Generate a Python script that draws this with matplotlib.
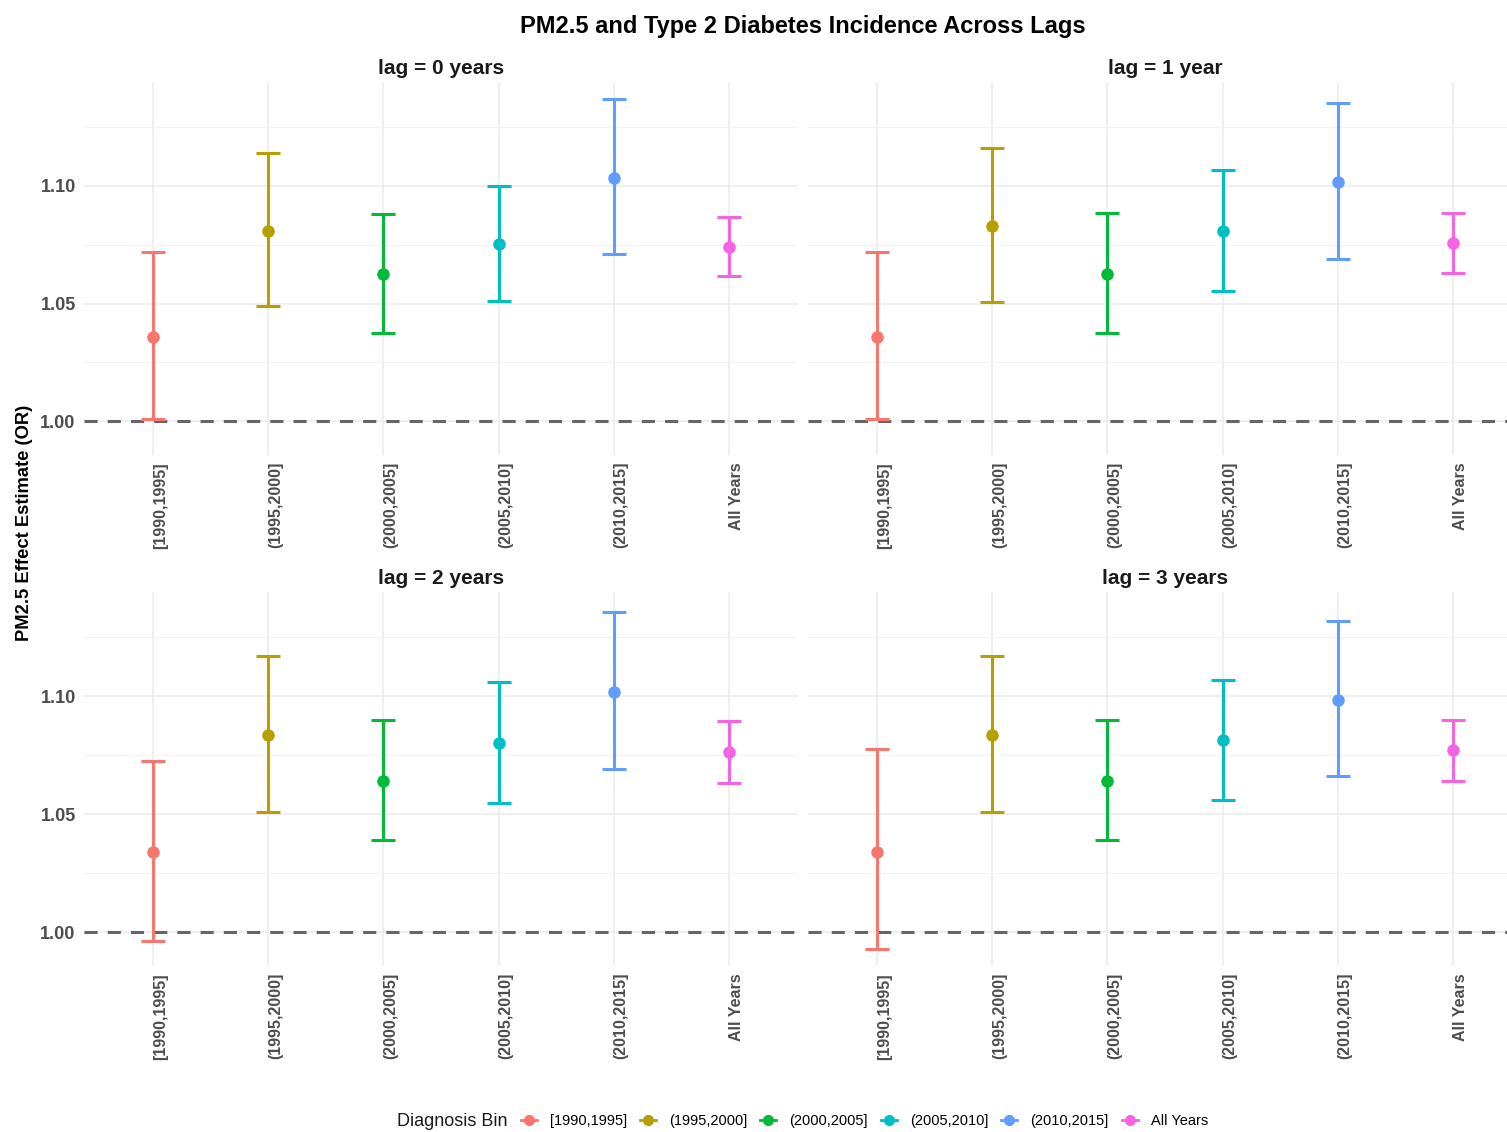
import numpy as np
import matplotlib
matplotlib.use("Agg")
import matplotlib.pyplot as plt
from matplotlib.lines import Line2D

plt.rcParams['font.family'] = ['Liberation Sans', 'DejaVu Sans']

# Odds ratios for PM2.5 by diagnosis bin, one panel per lag
bins = ["[1990,1995]", "(1995,2000]", "(2000,2005]", "(2005,2010]", "(2010,2015]", "All Years"]
colors = ["#F8766D", "#B79F00", "#00BA38", "#00BFC4", "#619CFF", "#F564E3"]
lag_titles = ["lag = 0 years", "lag = 1 year", "lag = 2 years", "lag = 3 years"]

or_lag0 = [1.0357, 1.0809, 1.0626, 1.0753, 1.1034, 1.0740]
lo_lag0 = [1.0010, 1.0490, 1.0374, 1.0510, 1.0710, 1.0617]
hi_lag0 = [1.0720, 1.1140, 1.0880, 1.1000, 1.1370, 1.0868]

or_lag1 = [1.0357, 1.0830, 1.0626, 1.0809, 1.1017, 1.0757]
lo_lag1 = [1.0010, 1.0506, 1.0374, 1.0553, 1.0689, 1.0630]
hi_lag1 = [1.0720, 1.1160, 1.0885, 1.1068, 1.1353, 1.0885]

or_lag2 = [1.0339, 1.0835, 1.0640, 1.0800, 1.1017, 1.0763]
lo_lag2 = [0.9962, 1.0508, 1.0390, 1.0547, 1.0690, 1.0631]
hi_lag2 = [1.0725, 1.1170, 1.0898, 1.1060, 1.1356, 1.0894]

or_lag3 = [1.0339, 1.0835, 1.0640, 1.0814, 1.0983, 1.0770]
lo_lag3 = [0.9928, 1.0508, 1.0390, 1.0560, 1.0661, 1.0640]
hi_lag3 = [1.0775, 1.1170, 1.0900, 1.1070, 1.1318, 1.0900]

est = [or_lag0, or_lag1, or_lag2, or_lag3]
low = [lo_lag0, lo_lag1, lo_lag2, lo_lag3]
high = [hi_lag0, hi_lag1, hi_lag2, hi_lag3]

# shared y scale with ggplot-style 5% expansion
ymin = min(min(l) for l in low)
ymax = max(max(h) for h in high)
pad = 0.05 * (ymax - ymin)

W, H = 1507, 1132
fig = plt.figure(figsize=(W / 100, H / 100), dpi=100)

# panel boxes in pixels: left, top, right, bottom
boxes = [(84, 82, 798, 455), (808, 82, 1522, 455),
         (84, 592, 798, 966), (808, 592, 1522, 966)]

x = np.arange(len(bins))
for k, (l, t, r, b) in enumerate(boxes):
    ax = fig.add_axes([l / W, 1 - b / H, (r - l) / W, (b - t) / H])
    ax.set_xlim(-0.6, len(bins) - 0.4)
    ax.set_ylim(ymin - pad, ymax + pad)
    for s in ax.spines.values():
        s.set_visible(False)
    ax.set_yticks([1.00, 1.05, 1.10])
    ax.set_yticks([1.025, 1.075, 1.125], minor=True)
    ax.set_xticks(x)
    ax.grid(which='major', color='#EBEBEB', lw=1.1)
    ax.grid(which='minor', axis='y', color='#F3F3F3', lw=0.8)
    ax.set_axisbelow(True)
    ax.tick_params(which='both', length=0)
    ax.set_xticklabels(bins, rotation=90, fontsize=11.5, fontweight='bold',
                       color='#4D4D4D', va='top', ha='left')
    ax.tick_params(axis='x', pad=5)
    if k % 2 == 0:
        ax.set_yticklabels(["1.00", "1.05", "1.10"], fontsize=13, fontweight='bold',
                           color='#4D4D4D')
        ax.tick_params(axis='y', pad=6)
    else:
        ax.set_yticklabels([])
    ax.axhline(1.0, color='#666666', lw=2.2, dashes=(4.3, 3.3), zorder=1)
    for i in range(len(bins)):
        y = est[k][i]
        ax.errorbar(x[i], y, yerr=[[y - low[k][i]], [high[k][i] - y]],
                    fmt='o', color=colors[i], ms=8, lw=2.2, capsize=8.6,
                    capthick=2.2, zorder=3)
    ax.set_title(lag_titles[k], fontsize=15, fontweight='bold', color='#1A1A1A', pad=6)

fig.text(803 / W, 1 - 26 / H, "PM2.5 and Type 2 Diabetes Incidence Across Lags",
         ha='center', va='center', fontsize=17, fontweight='bold', color='black')
fig.text(25 / W, 1 - 523 / H, "PM2.5 Effect Estimate (OR)", rotation=90,
         ha='center', va='center', fontsize=13.2, fontweight='bold', color='black')

handles = [Line2D([0], [0], color=c, marker='o', ms=7, lw=2.0) for c in colors]
fig.text(397 / W, 1 - 1121 / H, "Diagnosis Bin", ha='left', va='center', fontsize=13,
         color='#1A1A1A')
fig.legend(handles, bins, loc='center left', bbox_to_anchor=(521 / W, 1 - 1121 / H),
           ncol=6, frameon=False, fontsize=10.5, handlelength=1.1, handletextpad=0.9,
           columnspacing=0.88, borderaxespad=0, borderpad=0)

fig.savefig("out.png", dpi=100)
